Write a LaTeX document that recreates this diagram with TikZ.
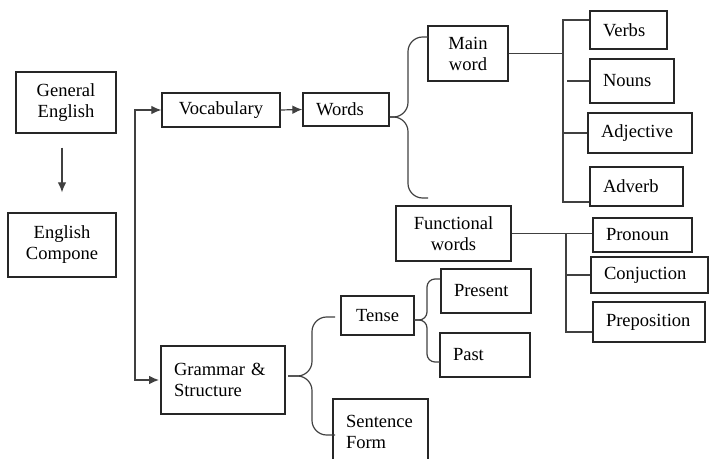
\documentclass[tikz,border=0pt]{standalone}
\usepackage{fontspec}
\setmainfont{Liberation Serif}
\usetikzlibrary{arrows.meta}

\begin{document}
\begin{tikzpicture}[x=0.75pt, y=-0.75pt,
    every node/.style={font=\fontsize{13.9}{15.8}\selectfont},
    box/.style={draw=black!85, line width=1pt, align=center, inner sep=2pt},
    lbox/.style={draw=black!85, line width=1pt, align=left, inner xsep=9.75pt, inner ysep=2pt},
    link/.style={draw=black!75, line width=0.9pt},
    arr/.style={link, -{Latex[length=7.5pt,width=6.5pt]}},
    brace/.style={link, rounded corners=#1}]
        \useasboundingbox (0,0) rectangle (711,459);
        \node[box, minimum width=75pt, minimum height=45.75pt] (gen) at (66,102.5) {General\\English};
        \node[box, minimum width=81pt, minimum height=48pt] (comp) at (62,245) {English\\Compone};
        \node[box, minimum width=88.5pt, minimum height=25.5pt] (voc) at (221,110) {Vocabulary};
        \node[lbox, text width=45pt, minimum height=24.75pt] (words) at (346,109.5) {Words};
        \node[box, minimum width=60pt, minimum height=41.25pt] (main) at (468,53.5) {Main\\word};
        \node[lbox, text width=38.25pt, minimum height=28.5pt] (verbs) at (628.5,30) {Verbs};
        \node[lbox, text width=43.5pt, minimum height=33pt] (nouns) at (632,81) {Nouns};
        \node[lbox, text width=58.5pt, minimum height=30pt] (adj) at (640,133) {Adjective};
        \node[lbox, text width=50.25pt, minimum height=29.25pt] (adv) at (636.5,186.5) {Adverb};
        \node[box, minimum width=86.25pt, minimum height=41.25pt] (func) at (453.5,233.5) {Functional\\words};
        \node[lbox, text width=54.75pt, minimum height=25.5pt] (pron) at (642.5,235) {Pronoun};
        \node[lbox, text width=68.25pt, minimum height=27pt] (conj) at (649.5,275) {Conjuction};
        \node[lbox, text width=64.5pt, minimum height=30pt] (prep) at (649,322) {Preposition};
        \node[box, minimum width=54.75pt, minimum height=29.25pt] (tense) at (377.5,315.5) {Tense};
        \node[lbox, text width=48pt, minimum height=33pt] (pres) at (486,291) {Present};
        \node[lbox, text width=48pt, minimum height=33pt] (past) at (485,355) {Past};
        \node[lbox, text width=73.5pt, minimum height=51pt] (gram) at (223,380) {Grammar \&\\Structure};
        \begin{scope}
        \clip (0,0) rectangle (711,459);
        \node[lbox, text width=51.75pt, minimum height=49.5pt] (sent) at (380.5,432) {Sentence\\Form};
        \end{scope}

        \draw[arr, shorten <=10.5pt, shorten >=15pt] (gen.south -| comp.north) -- (comp.north);
        \coordinate (split) at (135,240);
        \draw[arr] (split) |- (voc.west);
        \draw[arr, shorten >=1pt] (split) |- (gram.west);
        \draw[arr] (voc.east) -- (words.west);

        \coordinate (wb) at (390,117);
        \coordinate (wtop) at (428,37);
        \coordinate (wend) at (428,198);
        \draw[brace=11pt] (wb) -| ([xshift=-15pt]wtop) -- (wtop);
        \draw[brace=11pt] (wb) -| ([xshift=-15pt]wend) -- (wend);

        \coordinate (mbT) at (563,20);
        \coordinate (mbB) at (563,202);
        \draw[link] (main.east) -- (main.east -| mbT);
        \draw[link] (verbs.west |- mbT) -- (mbT) -- (mbB) -- (adv.west |- mbB);
        \draw[link, shorten >=3pt] (nouns.west) -- (nouns.west -| mbT);
        \draw[link] (adj.west) -- (adj.west -| mbT);

        \coordinate (fbT) at (566,233.5);
        \coordinate (fbB) at (566,332);
        \draw[link] (func.east) -- (func.east -| pron.west);
        \draw[link] (fbT) -- (fbB) -- (prep.west |- fbB);
        \draw[link] (conj.west -| fbT) -- (conj.west);

        \coordinate (tb) at (414,320);
        \coordinate (ptop) at (440,279);
        \coordinate (pbot) at (440,362);
        \draw[brace=6pt] (tb) -| ([xshift=-9.75pt]ptop) -- (ptop);
        \draw[brace=6pt] (tb) -| ([xshift=-9.75pt]pbot) -- (pbot);

        \coordinate (gb) at (288,376);
        \coordinate (gtop) at (335,317);
        \coordinate (gbot) at (335,435);
        \draw[brace=11pt] (gb) -| ([xshift=-17.25pt]gtop) -- (gtop);
        \draw[brace=11pt] (gb) -| ([xshift=-17.25pt]gbot) -- (gbot);
        \end{tikzpicture}
\end{document}
